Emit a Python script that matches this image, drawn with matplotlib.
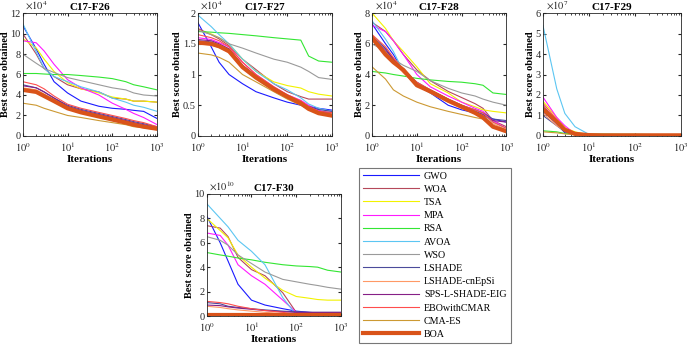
import numpy as np
import matplotlib
matplotlib.use("Agg")
from matplotlib import pyplot as plt

# 字体：Times 风格
plt.rcParams["font.family"] = ["Liberation Serif", "DejaVu Serif"]
plt.rcParams["mathtext.fontset"] = "stix"

iters = [1, 2, 3, 5, 10, 20, 50, 100, 200, 300, 500, 1000]

algos = ["GWO", "WOA", "TSA", "MPA", "RSA", "AVOA", "WSO", "LSHADE",
         "LSHADE-cnEpSi", "SPS-L-SHADE-EIG", "EBOwithCMAR", "CMA-ES", "BOA"]

# 各函数的收敛曲线（单位见 exps）
f26 = [
    [10.8, 8.5, 7.0, 5.3, 4.2, 3.4, 2.9, 2.7, 2.6, 2.5, 2.4, 1.7],
    [10.0, 8.0, 6.6, 5.8, 5.0, 4.6, 4.3, 3.7, 3.6, 3.4, 3.4, 3.3],
    [9.5, 8.6, 7.5, 6.3, 5.2, 4.6, 4.2, 3.8, 3.6, 3.4, 3.4, 3.3],
    [9.3, 9.1, 8.3, 7.0, 5.5, 4.7, 4.0, 3.2, 2.6, 2.2, 1.8, 1.1],
    [6.1, 6.1, 6.05, 6.0, 6.0, 5.9, 5.75, 5.6, 5.3, 5.0, 4.8, 4.5],
    [11.0, 8.2, 6.6, 5.8, 5.3, 4.8, 4.3, 3.7, 3.3, 3.0, 2.8, 2.4],
    [8.0, 7.1, 6.6, 6.2, 5.7, 5.4, 5.0, 4.7, 4.5, 4.2, 4.0, 3.9],
    [5.0, 4.7, 4.3, 3.7, 3.0, 2.6, 2.2, 1.9, 1.6, 1.4, 1.2, 0.9],
    [4.7, 4.5, 4.1, 3.5, 2.8, 2.4, 2.0, 1.7, 1.4, 1.2, 1.0, 0.7],
    [4.9, 4.7, 4.3, 3.7, 2.9, 2.5, 2.1, 1.8, 1.5, 1.3, 1.1, 0.8],
    [5.3, 5.0, 4.6, 3.9, 3.1, 2.7, 2.3, 2.0, 1.7, 1.5, 1.3, 0.9],
    [3.2, 3.0, 2.7, 2.4, 2.0, 1.8, 1.5, 1.3, 1.1, 0.9, 0.8, 0.6],
    [4.5, 4.3, 3.9, 3.4, 2.7, 2.3, 1.9, 1.6, 1.3, 1.1, 0.9, 0.7],
]
f27 = [
    [1.85, 1.45, 1.2, 1.0, 0.85, 0.72, 0.62, 0.55, 0.5, 0.48, 0.45, 0.42],
    [1.75, 1.65, 1.58, 1.47, 1.25, 1.08, 0.85, 0.72, 0.64, 0.6, 0.6, 0.6],
    [1.72, 1.66, 1.6, 1.5, 1.25, 1.05, 0.88, 0.82, 0.78, 0.72, 0.68, 0.65],
    [1.6, 1.57, 1.52, 1.45, 1.2, 1.0, 0.8, 0.67, 0.58, 0.5, 0.42, 0.35],
    [1.7, 1.69, 1.68, 1.67, 1.65, 1.63, 1.6, 1.58, 1.56, 1.3, 1.22, 1.2],
    [1.97, 1.78, 1.65, 1.5, 1.25, 1.05, 0.85, 0.75, 0.62, 0.52, 0.45, 0.4],
    [1.72, 1.65, 1.6, 1.5, 1.43, 1.35, 1.25, 1.2, 1.12, 1.05, 0.95, 0.92],
    [1.55, 1.53, 1.48, 1.4, 1.15, 0.98, 0.78, 0.65, 0.55, 0.48, 0.43, 0.4],
    [1.5, 1.48, 1.44, 1.35, 1.1, 0.94, 0.75, 0.62, 0.52, 0.44, 0.38, 0.35],
    [1.57, 1.55, 1.5, 1.42, 1.15, 0.97, 0.78, 0.65, 0.55, 0.47, 0.4, 0.38],
    [1.65, 1.6, 1.55, 1.45, 1.2, 1.0, 0.8, 0.67, 0.57, 0.48, 0.4, 0.38],
    [1.35, 1.32, 1.28, 1.2, 1.0, 0.88, 0.72, 0.6, 0.5, 0.43, 0.38, 0.35],
    [1.52, 1.5, 1.46, 1.38, 1.12, 0.95, 0.76, 0.64, 0.53, 0.44, 0.37, 0.33],
]
f28 = [
    [7.3, 6.0, 5.3, 4.2, 3.3, 2.8, 2.0, 1.7, 1.5, 1.3, 1.1, 0.9],
    [7.4, 6.8, 6.2, 5.3, 4.3, 3.6, 2.9, 2.5, 2.1, 1.8, 1.0, 0.6],
    [8.0, 7.0, 6.2, 5.5, 4.5, 3.4, 2.8, 2.2, 1.9, 1.7, 1.6, 1.5],
    [7.2, 6.8, 6.2, 5.3, 4.0, 3.2, 2.6, 2.2, 1.8, 1.6, 1.0, 0.5],
    [4.2, 4.1, 4.0, 3.9, 3.75, 3.65, 3.55, 3.5, 3.4, 3.3, 2.8, 2.7],
    [7.5, 6.3, 5.5, 4.2, 3.3, 2.8, 2.3, 2.0, 1.6, 1.4, 0.9, 0.5],
    [6.0, 5.5, 5.0, 4.6, 4.2, 3.6, 3.1, 2.8, 2.6, 2.4, 2.2, 2.0],
    [6.5, 5.7, 5.0, 4.3, 3.5, 3.0, 2.4, 2.0, 1.7, 1.5, 1.1, 1.0],
    [6.2, 5.4, 4.8, 4.1, 3.3, 2.8, 2.2, 1.8, 1.5, 1.3, 0.8, 0.4],
    [6.4, 5.6, 5.0, 4.2, 3.4, 2.9, 2.3, 1.9, 1.6, 1.4, 1.0, 0.9],
    [6.6, 5.8, 5.1, 4.3, 3.5, 3.0, 2.4, 2.0, 1.7, 1.5, 0.9, 0.5],
    [4.5, 3.7, 3.0, 2.6, 2.2, 1.9, 1.6, 1.4, 1.2, 1.1, 0.6, 0.3],
    [6.4, 5.3, 4.8, 4.3, 3.3, 2.9, 2.3, 1.9, 1.5, 1.2, 0.6, 0.3],
]
f29 = [
    [1.2, 0.6, 0.15, 0.08, 0.05, 0.04, 0.04, 0.04, 0.04, 0.04, 0.04, 0.04],
    [1.5, 0.7, 0.3, 0.15, 0.06, 0.05, 0.05, 0.05, 0.05, 0.05, 0.05, 0.05],
    [1.7, 0.9, 0.4, 0.2, 0.05, 0.05, 0.05, 0.05, 0.05, 0.05, 0.05, 0.05],
    [1.9, 0.9, 0.5, 0.1, 0.05, 0.05, 0.05, 0.05, 0.05, 0.05, 0.05, 0.05],
    [0.25, 0.2, 0.12, 0.1, 0.09, 0.09, 0.08, 0.08, 0.07, 0.06, 0.06, 0.06],
    [5.4, 2.3, 1.1, 0.45, 0.08, 0.05, 0.05, 0.05, 0.05, 0.05, 0.05, 0.05],
    [1.4, 0.6, 0.3, 0.15, 0.06, 0.05, 0.05, 0.05, 0.05, 0.05, 0.05, 0.05],
    [1.0, 0.5, 0.2, 0.08, 0.04, 0.04, 0.04, 0.04, 0.04, 0.04, 0.04, 0.04],
    [1.1, 0.5, 0.25, 0.1, 0.04, 0.04, 0.04, 0.04, 0.04, 0.04, 0.04, 0.04],
    [1.3, 0.6, 0.3, 0.12, 0.05, 0.04, 0.04, 0.04, 0.04, 0.04, 0.04, 0.04],
    [1.6, 0.8, 0.35, 0.15, 0.05, 0.04, 0.04, 0.04, 0.04, 0.04, 0.04, 0.04],
    [0.2, 0.15, 0.1, 0.05, 0.03, 0.03, 0.03, 0.03, 0.03, 0.03, 0.03, 0.03],
    [1.3, 0.7, 0.3, 0.1, 0.04, 0.03, 0.03, 0.03, 0.03, 0.03, 0.03, 0.03],
]
f30 = [
    [8.2, 6.0, 4.5, 2.6, 1.3, 0.9, 0.6, 0.4, 0.3, 0.25, 0.22, 0.2],
    [7.4, 7.2, 6.5, 4.8, 3.8, 3.3, 1.9, 0.3, 0.2, 0.2, 0.2, 0.2],
    [8.0, 7.0, 6.4, 5.0, 4.0, 3.1, 2.1, 1.6, 1.45, 1.35, 1.3, 1.3],
    [6.8, 6.6, 5.8, 4.2, 3.3, 2.6, 1.3, 0.3, 0.2, 0.2, 0.2, 0.2],
    [5.2, 5.0, 4.9, 4.75, 4.6, 4.4, 4.2, 4.1, 4.05, 4.0, 3.75, 3.6],
    [9.2, 8.0, 7.3, 6.2, 5.3, 4.2, 1.5, 0.1, 0.05, 0.05, 0.05, 0.05],
    [6.5, 6.2, 5.8, 5.0, 4.3, 3.6, 3.0, 2.8, 2.6, 2.5, 2.35, 2.2],
    [1.1, 1.0, 0.8, 0.7, 0.6, 0.5, 0.4, 0.35, 0.3, 0.3, 0.3, 0.3],
    [0.8, 0.7, 0.6, 0.5, 0.4, 0.3, 0.2, 0.15, 0.1, 0.08, 0.06, 0.05],
    [0.9, 0.85, 0.75, 0.65, 0.55, 0.45, 0.35, 0.3, 0.3, 0.3, 0.3, 0.3],
    [1.2, 1.1, 1.0, 0.8, 0.6, 0.45, 0.3, 0.15, 0.1, 0.08, 0.06, 0.05],
    [0.2, 0.18, 0.15, 0.12, 0.1, 0.1, 0.08, 0.08, 0.07, 0.07, 0.06, 0.06],
    [0.05, 0.05, 0.05, 0.05, 0.05, 0.05, 0.05, 0.05, 0.05, 0.05, 0.05, 0.05],
]

titles = ["C17-F26", "C17-F27", "C17-F28", "C17-F29", "C17-F30"]
exps = [4, 4, 4, 7, 10]
ymax = [12, 2, 8, 6, 10]
yticks = [[0, 2, 4, 6, 8, 10, 12], [0, 0.5, 1, 1.5, 2], [0, 2, 4, 6, 8],
          [0, 1, 2, 3, 4, 5, 6], [0, 2, 4, 6, 8, 10]]
ytick_labels = [["0", "2", "4", "6", "8", "10", "12"], ["0", "0.5", "1", "1.5", "2"],
                ["0", "2", "4", "6", "8"], ["0", "1", "2", "3", "4", "5", "6"],
                ["0", "2", "4", "6", "8", "10"]]
data = [f26, f27, f28, f29, f30]

colors = ["#1a1aff", "#b5485a", "#f2f200", "#ff1aff", "#33e633", "#5cc6f2", "#9a9a9a",
          "#4b4b9b", "#ff9966", "#862086", "#ff4d4d", "#cc9933", "#d95319"]
widths = [0.8] * 12 + [3.0]

# 各子图位置（图像坐标比例）
positions = [
    [0.033, 0.606, 0.195, 0.356],
    [0.287, 0.606, 0.195, 0.356],
    [0.540, 0.606, 0.195, 0.356],
    [0.788, 0.606, 0.200, 0.356],
    [0.300, 0.084, 0.195, 0.354],
]

fig = plt.figure(figsize=(6.89, 3.45), dpi=100)

handles = []
for k in range(5):
    ax = fig.add_axes(positions[k])
    for i, name in enumerate(algos):
        ln, = ax.plot(iters, data[k][i], color=colors[i], lw=widths[i], label=name)
        if k == 0:
            handles.append(ln)
    ax.set_xscale("log")
    ax.set_xlim(1, 1000)
    ax.set_ylim(0, ymax[k])
    ax.set_xticks([1, 10, 100, 1000])
    ax.set_xticklabels(["$10^{0}$", "$10^{1}$", "$10^{2}$", "$10^{3}$"])
    ax.set_yticks(yticks[k])
    ax.set_yticklabels(ytick_labels[k])
    ax.tick_params(which="both", direction="in", top=True, right=True,
                   labelsize=7.5, length=2.5, colors="#262626")
    ax.tick_params(axis="y", pad=1.5)
    ax.tick_params(axis="x", pad=3.5)
    ax.tick_params(which="minor", length=1.5)
    for sp in ax.spines.values():
        sp.set_color("#262626")
        sp.set_linewidth(0.6)
    ax.set_title(titles[k], fontsize=8, fontweight="bold", pad=2)
    ax.set_xlabel("Iterations", fontsize=8, fontweight="bold", labelpad=0.5)
    ax.set_ylabel("Best score obtained", fontsize=7.5, fontweight="bold", labelpad=0.5)
    ax.text(0.02, 1.005, r"$\times10^{%d}$" % exps[k], transform=ax.transAxes,
            fontsize=7.5, color="#262626", va="bottom", ha="left")

leg = fig.legend(handles=handles, labels=algos, loc="lower left",
                 bbox_to_anchor=(0.521, 0.006, 0.221, 0.496), mode="expand",
                 fontsize=7.2, handlelength=5.6, handletextpad=0.5, labelspacing=0.42,
                 borderaxespad=0, fancybox=False, frameon=True)
leg.get_frame().set_edgecolor("#555555")
leg.get_frame().set_linewidth(0.8)

fig.savefig("out.png", dpi=100)
